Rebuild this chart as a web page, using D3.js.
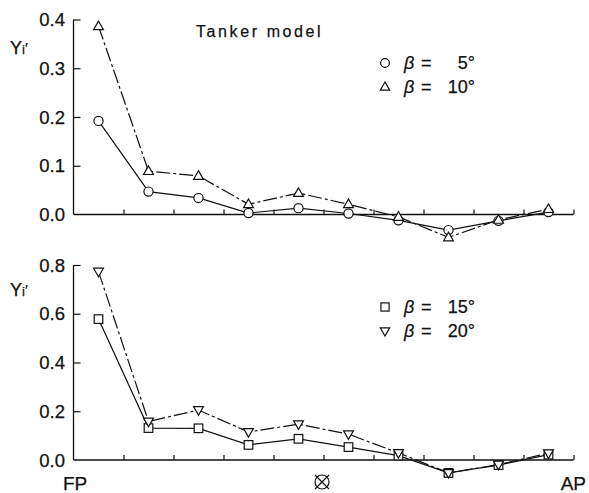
<!DOCTYPE html>
<html>
<head>
<meta charset="utf-8">
<script src="https://cdn.jsdelivr.net/npm/d3@7"></script>
<style>
  html, body { margin: 0; padding: 0; background: #fff; }
  svg { display: block; }
  text { font-family: "Liberation Sans", Arial, sans-serif; fill: #111; stroke: #111; stroke-width: 0.25; }
</style>
</head>
<body>
<script>
// Lateral force distribution Yi' along the hull, sections FP -> AP
const sections = [0.5, 1.5, 2.5, 3.5, 4.5, 5.5, 6.5, 7.5, 8.5, 9.5];
const beta5  = [0.192, 0.047, 0.034, 0.003, 0.013, 0.002, -0.012, -0.032, -0.013, 0.005];
const beta10 = [0.386, 0.089, 0.079, 0.021, 0.044, 0.021, -0.005, -0.047, -0.011, 0.011];
const beta15 = [0.578, 0.131, 0.130, 0.062, 0.087, 0.053, 0.018, -0.053, -0.021, 0.022];
const beta20 = [0.773, 0.158, 0.205, 0.115, 0.147, 0.106, 0.029, -0.053, -0.019, 0.028];
const topTicks = [0.0, 0.1, 0.2, 0.3, 0.4];
const bottomTicks = [0.0, 0.2, 0.4, 0.6, 0.8];
const sectionTicks = [1, 2, 3, 4, 5, 6, 7, 8, 9, 10];

const W = 589, H = 493;
const svg = d3.select("body").append("svg").attr("width", W).attr("height", H);

const x = d3.scaleLinear().domain([0, 10]).range([73.5, 573.5]);

const panels = [
  {
    y: d3.scaleLinear().domain([0, 0.4]).range([214.5, 19.5]),
    ticks: topTicks,
    label: { y: 54 },
    series: [
      { values: beta5,  symbol: "circle",   dash: null, name: "5" },
      { values: beta10, symbol: "triangle", dash: "14,3,3,3", name: "10" }
    ],
    legendY: [63, 87]
  },
  {
    y: d3.scaleLinear().domain([0, 0.8]).range([460, 265]),
    ticks: bottomTicks,
    label: { y: 296 },
    series: [
      { values: beta15, symbol: "square",   dash: null, name: "15" },
      { values: beta20, symbol: "triangleDown", dash: "14,3,3,3", name: "20" }
    ],
    legendY: [307, 331]
  }
];

function drawMarker(g, type, cx, cy, scale) {
  const s = scale || 1;
  if (type === "circle") {
    g.append("circle").attr("cx", cx).attr("cy", cy).attr("r", 4.6 * s)
      .attr("fill", "#fff").attr("stroke", "#111").attr("stroke-width", 1.2);
  } else if (type === "square") {
    const h = 4.3 * s;
    g.append("rect").attr("x", cx - h).attr("y", cy - h).attr("width", 2 * h).attr("height", 2 * h)
      .attr("fill", "#fff").attr("stroke", "#111").attr("stroke-width", 1.2);
  } else {
    const r = 5.2 * s;
    const dir = type === "triangle" ? 1 : -1;
    const pts = [
      [cx, cy - dir * r],
      [cx - r * 0.95, cy + dir * r * 0.65],
      [cx + r * 0.95, cy + dir * r * 0.65]
    ];
    g.append("path").attr("d", "M" + pts.map(p => p.join(",")).join("L") + "Z")
      .attr("fill", "#fff").attr("stroke", "#111").attr("stroke-width", 1.2);
  }
}

panels.forEach(p => {
  const g = svg.append("g");
  const y = p.y;

  // y axis: ticks pointing inward
  const yAxis = d3.axisRight(y).tickValues(p.ticks.filter(t => t > 0)).tickSize(7).tickFormat("");
  g.append("g").attr("transform", `translate(${x(0)},0)`).call(yAxis)
    .call(a => a.select(".domain").remove())
    .selectAll("line").attr("stroke", "#111").attr("stroke-width", 1.2);
  g.append("line").attr("x1", x(0)).attr("x2", x(0))
    .attr("y1", y(p.ticks[p.ticks.length - 1])).attr("y2", y(0))
    .attr("stroke", "#111").attr("stroke-width", 1.3);

  // tick labels
  g.selectAll(".ylab").data(p.ticks).enter().append("text")
    .attr("x", 65).attr("y", d => y(d) + 6.5)
    .attr("text-anchor", "end").attr("font-size", 18.5)
    .text(d => d3.format(".1f")(d));

  // x axis along Yi' = 0 with upward section ticks
  const xAxis = d3.axisTop(x).tickValues(sectionTicks).tickSize(5).tickFormat("");
  g.append("g").attr("transform", `translate(0,${y(0)})`).call(xAxis)
    .call(a => a.select(".domain").remove())
    .selectAll("line").attr("stroke", "#111").attr("stroke-width", 1.2);
  g.append("line").attr("x1", x(0)).attr("x2", x(10))
    .attr("y1", y(0)).attr("y2", y(0))
    .attr("stroke", "#111").attr("stroke-width", 1.4);

  // axis title Yi'
  const t = g.append("text").attr("x", 10).attr("y", p.label.y).attr("font-size", 18);
  t.append("tspan").text("Y");
  t.append("tspan").attr("font-size", 13).text("i");
  t.append("tspan").attr("font-size", 15).attr("dy", -1).text("\u2032");

  // series lines and markers
  p.series.forEach(s => {
    const line = d3.line().x((d, i) => x(sections[i])).y(d => y(d));
    g.append("path").datum(s.values).attr("d", line)
      .attr("fill", "none").attr("stroke", "#111").attr("stroke-width", 1.2)
      .attr("stroke-dasharray", s.dash);
  });
  p.series.forEach(s => {
    s.values.forEach((v, i) => drawMarker(g, s.symbol, x(sections[i]), y(v)));
  });

  // legend
  p.series.forEach((s, k) => {
    const ly = p.legendY[k];
    drawMarker(g, s.symbol, 385, ly, 0.95);
    g.append("text").attr("x", 404).attr("y", ly + 6).attr("font-size", 18)
      .attr("font-style", "italic").text("\u03B2");
    g.append("text").attr("x", 421).attr("y", ly + 6).attr("font-size", 18).text("=");
    g.append("text").attr("x", 475).attr("y", ly + 6).attr("font-size", 18)
      .attr("text-anchor", "end").text(s.name + "\u00B0");
  });
});

// title
svg.append("text").attr("x", 196).attr("y", 37).attr("font-size", 16)
  .attr("letter-spacing", 2.6).text("Tanker model");

// hull reference labels
svg.append("text").attr("x", 63).attr("y", 490).attr("font-size", 19).text("FP");
svg.append("text").attr("x", 586).attr("y", 490).attr("font-size", 19)
  .attr("text-anchor", "end").text("AP");

// midship symbol
const ms = svg.append("g").attr("transform", `translate(${x(5) - 1.5},482)`);
ms.append("circle").attr("r", 7).attr("fill", "none").attr("stroke", "#111").attr("stroke-width", 1.2);
ms.append("path").attr("d", "M-7,-7L7,7M7,-7L-7,7").attr("stroke", "#111").attr("stroke-width", 1.2);
</script>
</body>
</html>
